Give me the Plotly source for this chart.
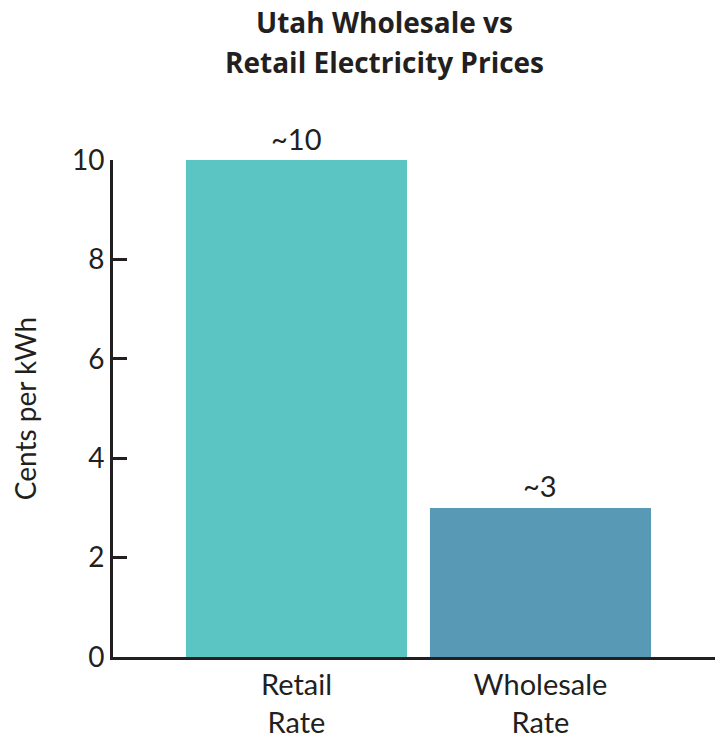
import plotly.graph_objects as go

categories = ["Retail<br>Rate", "Wholesale<br>Rate"]
values = [10, 3]
labels = ["~10", "~3"]
colors = ["#5BC5C4", "#5899B6"]
y_ticks = [0, 2, 4, 6, 8, 10]
title_lines = ["Utah Wholesale vs", "Retail Electricity Prices"]

ink = "#231F20"
font_family = "Lato, 'Open Sans', sans-serif"
title_family = "'Open Sans', sans-serif"

fig = go.Figure(go.Bar(
    x=categories, y=values,
    marker=dict(color=colors, line=dict(width=0)),
    cliponaxis=False, width=0.906, hoverinfo="skip",
))

annotations = []
for cat, val, lab in zip(categories, values, labels):
    annotations.append(dict(
        x=cat, y=val, text=lab, xref="x", yref="y",
        xanchor="center", yanchor="middle", yshift=22, showarrow=False,
        font=dict(size=29, color=ink, family=font_family),
    ))
for line, ypos in zip(title_lines, [1.2777, 1.1972]):
    annotations.append(dict(
        text="<b>" + line + "</b>", xref="paper", yref="paper",
        x=0.4459, y=ypos, xanchor="center", yanchor="middle",
        showarrow=False,
        font=dict(size=28, color=ink, family=title_family),
    ))

fig.update_layout(
    width=715, height=730,
    margin=dict(l=105, r=0, t=152, b=81),
    paper_bgcolor="white", plot_bgcolor="white",
    font=dict(family=font_family, color=ink, size=28),
    showlegend=False,
    annotations=annotations,
)
fig.update_xaxes(
    range=[-0.752, 1.748], showline=True, linecolor=ink, linewidth=3,
    ticks="", showgrid=False, tickfont=dict(size=29, color=ink),
    automargin=False,
)
fig.update_yaxes(
    range=[0, 10], tickvals=y_ticks, showline=True, linecolor=ink, linewidth=3,
    ticks="inside", ticklen=14, tickwidth=3, tickcolor=ink, showgrid=False,
    zeroline=False, tickfont=dict(size=28, color=ink), automargin=False,
    title=dict(text="Cents per kWh", font=dict(size=28, color=ink), standoff=30),
)

fig.write_html("out.html")
